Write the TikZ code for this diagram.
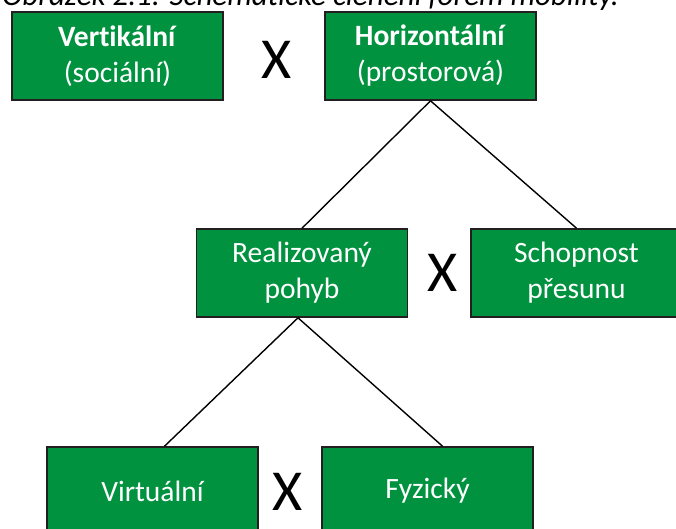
\documentclass[tikz,border=0pt]{standalone}
\usepackage{fontspec}
\setmainfont{Carlito}[Ligatures=NoCommon]
\usepackage{tikz}
\usetikzlibrary{calc}
\definecolor{boxgreen}{RGB}{0,146,63}
\definecolor{boxedge}{RGB}{35,31,32}

\begin{document}
\begin{tikzpicture}[x=1pt, y=-1pt,
    box/.style={draw=boxedge, line width=1.6pt, fill=boxgreen, text=white,
        minimum width=211pt, minimum height=88pt, align=center,
        font=\fontsize{29.5}{36}\selectfont},
    cross/.style={font=\fontsize{58}{58}\selectfont},
    every edge/.style={draw, line width=1.4pt}]
\useasboundingbox (0, 0) rectangle (676, 528);
\clip (0, 0) rectangle (676, 528);
\node[anchor=base west, inner sep=0pt, font=\fontsize{31}{36}\selectfont\itshape]
    at (2, 5) (CAP) {Obrázek 2.1: Schematické členění forem mobility.};
\node[box] at (117.5, 56) (VE) {\textbf{Vertikální}\\(sociální)};
\node[box] at (430.5, 56) (HO) {\textbf{Horizontální}\\(prostorová)};
\node[cross] at (277, 60) (X1) {X};
\node[box] at (302, 273) (RP) {Realizovaný\\pohyb};
\node[box] at (576.5, 273) (SP) {Schopnost\\přesunu};
\node[cross] at (443, 273) (X2) {X};
\node[box] at (152.5, 491) (VI) {\raisebox{-2pt}{Virtuální}};
\node[box] at (427.5, 491) (FY) {\raisebox{6pt}{Fyzický}};
\node[cross] at (288, 492) (X3) {X};
\path (HO.south) edge (RP.north);
\path (HO.south) edge (SP.north);
\path ([xshift=-4pt]RP.south) edge ([xshift=12pt]VI.north);
\path ([xshift=-4pt]RP.south) edge ([xshift=15pt]FY.north);
\end{tikzpicture}
\end{document}
